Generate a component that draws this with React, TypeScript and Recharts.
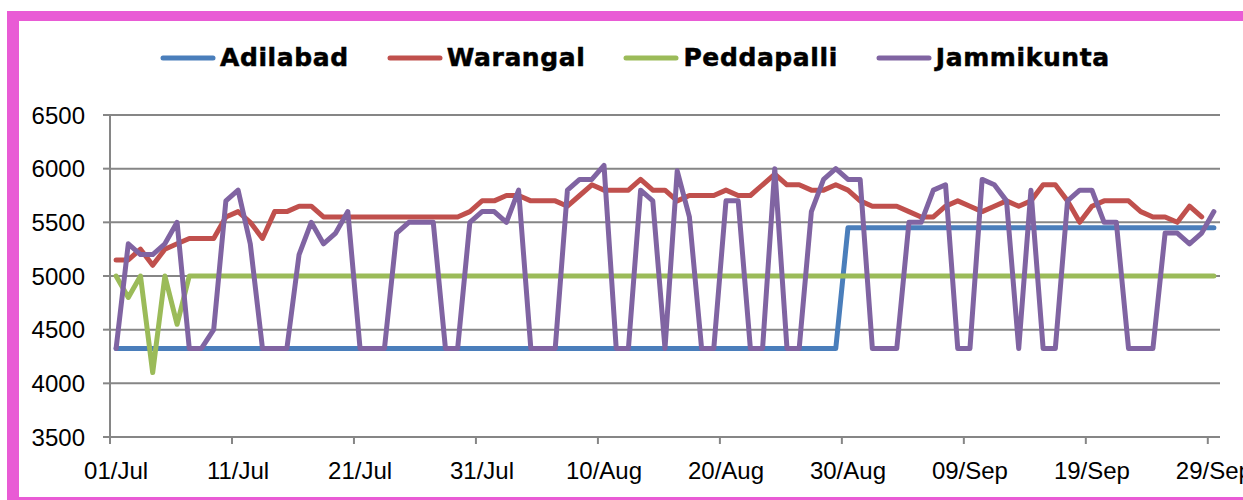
import { LineChart, Line, XAxis, YAxis, CartesianGrid, Legend } from 'recharts';

// daily prices, 01/Jul .. 29/Sep (91 days)
const adilabad = [
  4325, 4325, 4325, 4325, 4325, 4325, 4325, 4325, 4325, 4325,
  4325, 4325, 4325, 4325, 4325, 4325, 4325, 4325, 4325, 4325,
  4325, 4325, 4325, 4325, 4325, 4325, 4325, 4325, 4325, 4325,
  4325, 4325, 4325, 4325, 4325, 4325, 4325, 4325, 4325, 4325,
  4325, 4325, 4325, 4325, 4325, 4325, 4325, 4325, 4325, 4325,
  4325, 4325, 4325, 4325, 4325, 4325, 4325, 4325, 4325, 4325,
  5450, 5450, 5450, 5450, 5450, 5450, 5450, 5450, 5450, 5450,
  5450, 5450, 5450, 5450, 5450, 5450, 5450, 5450, 5450, 5450,
  5450, 5450, 5450, 5450, 5450, 5450, 5450, 5450, 5450, 5450,
  5450,
];

const warangal = [
  5150, 5150, 5250, 5100, 5250, 5300, 5350, 5350, 5350, 5550,
  5600, 5500, 5350, 5600, 5600, 5650, 5650, 5550, 5550, 5550,
  5550, 5550, 5550, 5550, 5550, 5550, 5550, 5550, 5550, 5600,
  5700, 5700, 5750, 5750, 5700, 5700, 5700, 5650, 5750, 5850,
  5800, 5800, 5800, 5900, 5800, 5800, 5700, 5750, 5750, 5750,
  5800, 5750, 5750, 5850, 5950, 5850, 5850, 5800, 5800, 5850,
  5800, 5700, 5650, 5650, 5650, 5600, 5550, 5550, 5650, 5700,
  5650, 5600, 5650, 5700, 5650, 5700, 5850, 5850, 5700, 5500,
  5650, 5700, 5700, 5700, 5600, 5550, 5550, 5500, 5650, 5550,
  null,
];

const peddapalli = [
  5000, 4800, 5000, 4100, 5000, 4550, 5000, 5000, 5000, 5000,
  5000, 5000, 5000, 5000, 5000, 5000, 5000, 5000, 5000, 5000,
  5000, 5000, 5000, 5000, 5000, 5000, 5000, 5000, 5000, 5000,
  5000, 5000, 5000, 5000, 5000, 5000, 5000, 5000, 5000, 5000,
  5000, 5000, 5000, 5000, 5000, 5000, 5000, 5000, 5000, 5000,
  5000, 5000, 5000, 5000, 5000, 5000, 5000, 5000, 5000, 5000,
  5000, 5000, 5000, 5000, 5000, 5000, 5000, 5000, 5000, 5000,
  5000, 5000, 5000, 5000, 5000, 5000, 5000, 5000, 5000, 5000,
  5000, 5000, 5000, 5000, 5000, 5000, 5000, 5000, 5000, 5000,
  5000,
];

const jammikunta = [
  4325, 5300, 5200, 5200, 5300, 5500, 4325, 4325, 4500, 5700,
  5800, 5300, 4325, 4325, 4325, 5200, 5500, 5300, 5400, 5600,
  4325, 4325, 4325, 5400, 5500, 5500, 5500, 4325, 4325, 5500,
  5600, 5600, 5500, 5800, 4325, 4325, 4325, 5800, 5900, 5900,
  6030, 4325, 4325, 5800, 5700, 4325, 5980, 5550, 4325, 4325,
  5700, 5700, 4325, 4325, 6000, 4325, 4325, 5600, 5900, 6000,
  5900, 5900, 4325, 4325, 4325, 5500, 5500, 5800, 5850, 4325,
  4325, 5900, 5850, 5700, 4325, 5800, 4325, 4325, 5700, 5800,
  5800, 5500, 5500, 4325, 4325, 4325, 5400, 5400, 5300, 5400,
  5600,
];

const seriesNames = ['Adilabad', 'Warangal', 'Peddapalli', 'Jammikunta'];
const seriesColors = ['#4A7EBB', '#C0504D', '#9BBB59', '#8064A2'];
const tickDays = [0, 10, 20, 30, 40, 50, 60, 70, 80, 90];
const tickLabels = ['01/Jul', '11/Jul', '21/Jul', '31/Jul', '10/Aug', '20/Aug', '30/Aug', '09/Sep', '19/Sep', '29/Sep'];
const priceTicks = [3500, 4000, 4500, 5000, 5500, 6000, 6500];

const rows = jammikunta.map((_, i) => ({
  day: i,
  Adilabad: adilabad[i],
  Warangal: warangal[i],
  Peddapalli: peddapalli[i],
  Jammikunta: jammikunta[i],
}));

const AXIS = '#868686';
const PINK = '#E95BD5';
const FONT = '"Liberation Sans", Arial, sans-serif';
const HALF_DAY = (1220 - 110) / 91 / 2;

function DateTick({ x, y, payload }: any) {
  const label = tickLabels[tickDays.indexOf(payload.value)];
  return (
    <g>
      <line x1={x - HALF_DAY} x2={x - HALF_DAY} y1={y} y2={y + 7} stroke={AXIS} strokeWidth={2} />
      <text x={x} y={y + 42} textAnchor="middle" fontSize={24} fontFamily={FONT} fill="#000">
        {label}
      </text>
    </g>
  );
}

function LegendRow({ payload }: any) {
  const items = [...(payload || [])].sort(
    (a: any, b: any) => seriesNames.indexOf(a.value) - seriesNames.indexOf(b.value)
  );
  return (
    <div style={{ display: 'flex', alignItems: 'center' }}>
      {items.map((item: any) => (
        <div key={item.value} style={{ display: 'flex', alignItems: 'center', marginRight: 38 }}>
          <svg width={56} height={8}>
            <line x1={3} x2={53} y1={4} y2={4} stroke={item.color} strokeWidth={5} strokeLinecap="round" />
          </svg>
          <span
            style={{
              font: 'bold 25px "DejaVu Sans"',
              color: '#000',
              marginLeft: 4,
              lineHeight: '29px',
              letterSpacing: 0.6,
              WebkitTextStroke: '0.5px #000',
            }}
          >
            {item.value}
          </span>
        </div>
      ))}
    </div>
  );
}

export default function App() {
  const lineProps = {
    type: 'linear' as const,
    strokeWidth: 5,
    dot: false,
    activeDot: false,
    isAnimationActive: false,
    strokeLinejoin: 'round' as const,
    strokeLinecap: 'round' as const,
  };
  return (
    <div style={{ position: 'absolute', left: 0, top: 0, width: 1243, height: 500, overflow: 'hidden', background: '#fff' }}>
      <div
        style={{
          position: 'absolute',
          left: 7,
          top: 11,
          width: 1300,
          height: 492,
          boxSizing: 'border-box',
          borderTop: `10px solid ${PINK}`,
          borderLeft: `12px solid ${PINK}`,
          borderBottom: `6px solid ${PINK}`,
        }}
      />
      <div style={{ position: 'absolute', left: 0, top: 0 }}>
        <LineChart width={1243} height={500} data={rows} margin={{ top: 115, right: 23, bottom: 23, left: 0 }}>
          <CartesianGrid vertical={false} stroke={AXIS} strokeWidth={2} />
          <XAxis
            type="number"
            dataKey="day"
            domain={[-0.5, 90.5]}
            ticks={tickDays}
            interval={0}
            tick={<DateTick />}
            tickLine={false}
            tickSize={0}
            tickMargin={0}
            axisLine={{ stroke: AXIS, strokeWidth: 2 }}
            height={40}
          />
          <YAxis
            domain={[3500, 6500]}
            ticks={priceTicks}
            interval={0}
            width={110}
            tickSize={7}
            tickMargin={18}
            tick={{ fontSize: 24, fontFamily: FONT, fill: '#000' }}
            tickLine={{ stroke: AXIS, strokeWidth: 2 }}
            axisLine={{ stroke: AXIS, strokeWidth: 2 }}
          />
          <Legend
            layout="horizontal"
            verticalAlign="middle"
            align="center"
            content={<LegendRow />}
            wrapperStyle={{ left: 160, top: 43, width: 1000 }}
          />
          {seriesNames.map((name, i) => (
            <Line key={name} {...lineProps} dataKey={name} stroke={seriesColors[i]} />
          ))}
        </LineChart>
      </div>
    </div>
  );
}
